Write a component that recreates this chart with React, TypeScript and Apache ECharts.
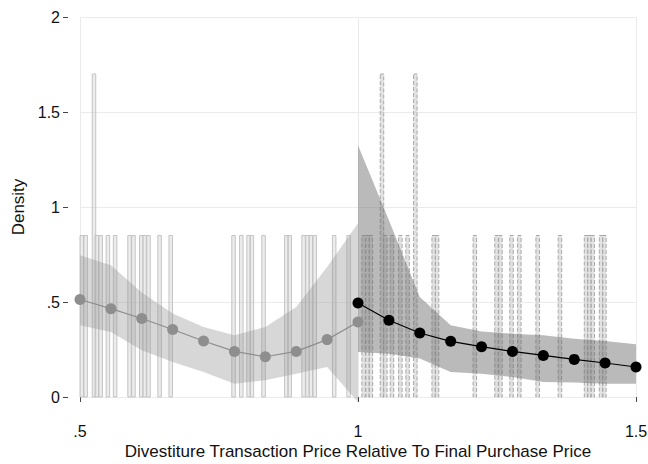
import React, { useEffect, useRef } from "react";
import * as echarts from "echarts";

// Histogram bins: left edge of each bin and its density
const BIN_WIDTH = 0.0063;
const leftBinStarts = [
  0.5, 0.507, 0.522, 0.527, 0.534, 0.547, 0.56, 0.586, 0.593, 0.607, 0.613,
  0.62, 0.64, 0.66, 0.773, 0.787, 0.8, 0.806, 0.827, 0.868, 0.874, 0.899,
  0.906, 0.912, 0.919, 0.954, 0.98,
];
const leftBinDensity = [
  0.85, 0.85, 1.7, 0.85, 0.85, 0.85, 0.85, 0.85, 0.85, 0.85, 0.85, 0.85, 0.85,
  0.85, 0.85, 0.85, 0.85, 0.85, 0.85, 0.85, 0.85, 0.85, 0.85, 0.85, 0.85, 0.85,
  0.85,
];
const rightBinStarts = [
  1.007, 1.014, 1.02, 1.04, 1.046, 1.058, 1.073, 1.086, 1.1, 1.133, 1.139,
  1.207, 1.246, 1.253, 1.273, 1.287, 1.32, 1.36, 1.407, 1.413, 1.419, 1.434,
  1.44,
];
const rightBinDensity = [
  0.85, 0.85, 0.85, 1.7, 0.85, 0.85, 0.85, 0.85, 1.7, 0.85, 0.85, 0.85, 0.85,
  0.85, 0.85, 0.85, 0.85, 0.85, 0.85, 0.85, 0.85, 0.85, 0.85,
];

// Local fit below the threshold (gray) with its confidence band
const leftX = [0.5, 0.5556, 0.6111, 0.6667, 0.7222, 0.7778, 0.8333, 0.8889, 0.9444, 1.0];
const leftFit = [0.513, 0.465, 0.413, 0.355, 0.295, 0.24, 0.212, 0.24, 0.302, 0.395];
const leftUpper = [0.746, 0.693, 0.55, 0.439, 0.368, 0.325, 0.368, 0.474, 0.684, 0.914];
const leftLower = [0.377, 0.342, 0.246, 0.184, 0.132, 0.07, 0.088, 0.123, 0.158, -0.026];

// Local fit above the threshold (black) with its confidence band
const rightX = [1.0, 1.0556, 1.1111, 1.1667, 1.2222, 1.2778, 1.3333, 1.3889, 1.4444, 1.5];
const rightFit = [0.495, 0.404, 0.337, 0.293, 0.265, 0.24, 0.219, 0.198, 0.179, 0.158];
const rightUpper = [1.325, 0.93, 0.526, 0.377, 0.345, 0.333, 0.325, 0.307, 0.295, 0.277];
const rightLower = [0.237, 0.228, 0.202, 0.132, 0.123, 0.105, 0.079, 0.076, 0.07, 0.07];

const xTicks = [0.5, 1, 1.5];
const xTickLabels = [".5", "1", "1.5"];
const yTickLabels = ["0", ".5", "1", "1.5", "2"];

const FONT = "Liberation Sans, Arial, sans-serif";

function binSeries(starts: number[], dens: number[], dashed: boolean) {
  return {
    type: "custom",
    z: 1,
    encode: { x: [0, 1], y: 2 },
    data: starts.map((s, i) => [s, s + BIN_WIDTH, dens[i]]),
    renderItem: (_params: any, api: any) => {
      const p0 = api.coord([api.value(0), 0]);
      const p1 = api.coord([api.value(1), api.value(2)]);
      return {
        type: "rect",
        shape: { x: p0[0], y: p1[1], width: p1[0] - p0[0], height: p0[1] - p1[1] },
        style: dashed
          ? { fill: "rgba(190,190,190,0.45)", stroke: "#a8a8a8", lineWidth: 1, lineDash: [4, 2] }
          : { fill: "rgba(200,200,200,0.35)", stroke: "#c4c4c4", lineWidth: 1 },
      };
    },
  };
}

function bandSeries(xs: number[], up: number[], lo: number[], fill: string) {
  return {
    type: "custom",
    z: 2,
    encode: { x: 0, y: [1, 2] },
    data: xs.map((x, i) => [x, lo[i], up[i]]),
    renderItem: (params: any, api: any) => {
      if (params.dataIndex !== 0) return null;
      const top = xs.map((x, i) => api.coord([x, up[i]]));
      const bottom = xs.map((x, i) => api.coord([x, lo[i]])).reverse();
      return {
        type: "polygon",
        shape: { points: top.concat(bottom) },
        style: { fill },
      };
    },
  };
}

function fitSeries(xs: number[], ys: number[], color: string) {
  return {
    type: "line",
    z: 3,
    data: xs.map((x, i) => [x, ys[i]]),
    symbol: "circle",
    symbolSize: 11,
    lineStyle: { color, width: 1.2 },
    itemStyle: { color },
    silent: true,
  };
}

export default function App() {
  const ref = useRef<HTMLDivElement>(null);

  useEffect(() => {
    if (!ref.current) return;
    const chart = echarts.init(ref.current, undefined, { renderer: "svg" });
    chart.setOption({
      animation: false,
      backgroundColor: "#ffffff",
      textStyle: { fontFamily: FONT },
      grid: { left: 80, right: 12, top: 17, bottom: 67, outerBoundsMode: "none" },
      xAxis: {
        type: "value",
        min: 0.5,
        max: 1.5,
        interval: 0.5,
        offset: 7,
        name: "Divestiture Transaction Price Relative To Final Purchase Price",
        nameLocation: "middle",
        nameGap: 39,
        nameMoveOverlap: false,
        nameTextStyle: { fontSize: 17, color: "#111", fontFamily: FONT },
        axisLine: { show: false },
        axisTick: { show: true, length: 5, lineStyle: { color: "#444" } },
        axisLabel: {
          fontSize: 16,
          color: "#111",
          margin: 19,
          fontFamily: FONT,
          formatter: (v: number) => {
            const i = xTicks.indexOf(v);
            return i >= 0 ? xTickLabels[i] : "";
          },
        },
        splitLine: { show: true, lineStyle: { color: "#ebebeb", width: 1 } },
      },
      yAxis: {
        type: "value",
        min: 0,
        max: 2,
        interval: 0.5,
        offset: 12,
        name: "Density",
        nameLocation: "middle",
        nameGap: 41,
        nameMoveOverlap: false,
        nameTextStyle: { fontSize: 17, color: "#111", fontFamily: FONT },
        axisLine: { show: false },
        axisTick: { show: true, length: 5, lineStyle: { color: "#444" } },
        axisLabel: {
          fontSize: 16,
          color: "#111",
          margin: 8,
          fontFamily: FONT,
          formatter: (v: number) => yTickLabels[Math.round(v / 0.5)] ?? "",
        },
        splitLine: { show: true, lineStyle: { color: "#ebebeb", width: 1 } },
      },
      series: [
        binSeries(leftBinStarts, leftBinDensity, false),
        binSeries(rightBinStarts, rightBinDensity, true),
        bandSeries(leftX, leftUpper, leftLower, "rgba(150,150,150,0.38)"),
        bandSeries(rightX, rightUpper, rightLower, "rgba(110,110,110,0.48)"),
        fitSeries(leftX, leftFit, "#8e8e8e"),
        fitSeries(rightX, rightFit, "#000000"),
      ],
    });
    return () => chart.dispose();
  }, []);

  return (
    <div
      ref={ref}
      style={{ position: "fixed", left: 0, top: 0, width: 648, height: 464, background: "#fff" }}
    />
  );
}
